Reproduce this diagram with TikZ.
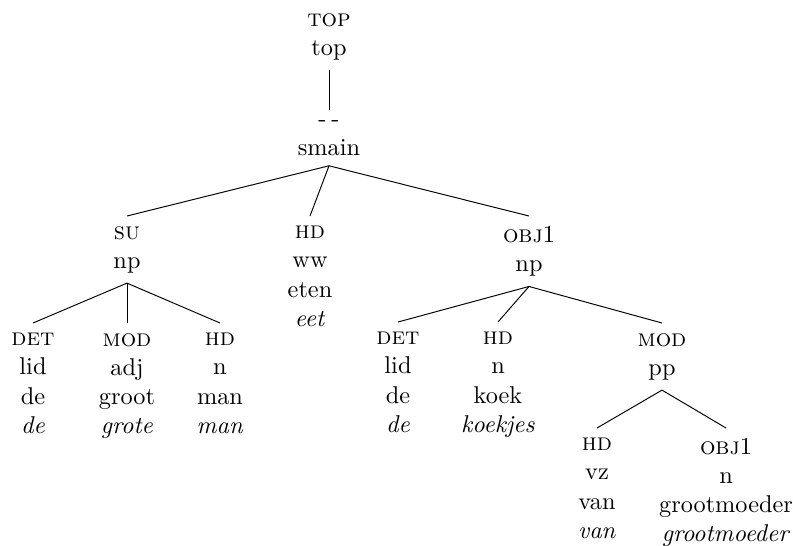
\documentclass[tikz,border=0pt]{standalone}
\begin{document}
\begin{tikzpicture}[x=0.4115pt,y={(0pt,-0.4115pt)}]
  \useasboundingbox (0,0) rectangle (793,545);
  \begin{scope}[every node/.style={align=center,anchor=north,inner sep=4pt}]
    \node (top) at (329,3) {\textsc{top}\\top};
    \node (smain) at (329,110) {-\kern2pt-\\smain};
    \node (su) at (127,216) {\textsc{su}\\np};
    \node (hdww) at (310,216) {\textsc{hd}\\ww\\eten\\\textit{eet}};
    \node (obj) at (529,216) {\textsc{obj}1\\np};
    \node (det1) at (33,323) {\textsc{det}\\lid\\de\\\textit{de}};
    \node (mod1) at (127,323) {\textsc{mod}\\adj\\groot\\\textit{grote}};
    \node (hd1) at (220,323) {\textsc{hd}\\n\\man\\\textit{man}};
    \node (det2) at (398,322) {\textsc{det}\\lid\\de\\\textit{de}};
    \node (hd2) at (498,322) {\textsc{hd}\\n\\koek\\\textit{koekjes}};
    \node (mod2) at (662,323) {\textsc{mod}\\pp};
    \node (hd3) at (597,428) {\textsc{hd}\\vz\\van\\\textit{van}};
    \node (obj2) at (726,428) {\textsc{obj}1\\n\\grootmoeder\\\textit{grootmoeder}};
  \end{scope}
  \foreach \a/\b in {top/smain,smain/su,smain/hdww,smain/obj,su/det1,su/mod1,su/hd1,
    obj/det2,obj/hd2,obj/mod2,mod2/hd3,mod2/obj2}
    \draw (\a.south) -- (\b.north);
\end{tikzpicture}
\end{document}
